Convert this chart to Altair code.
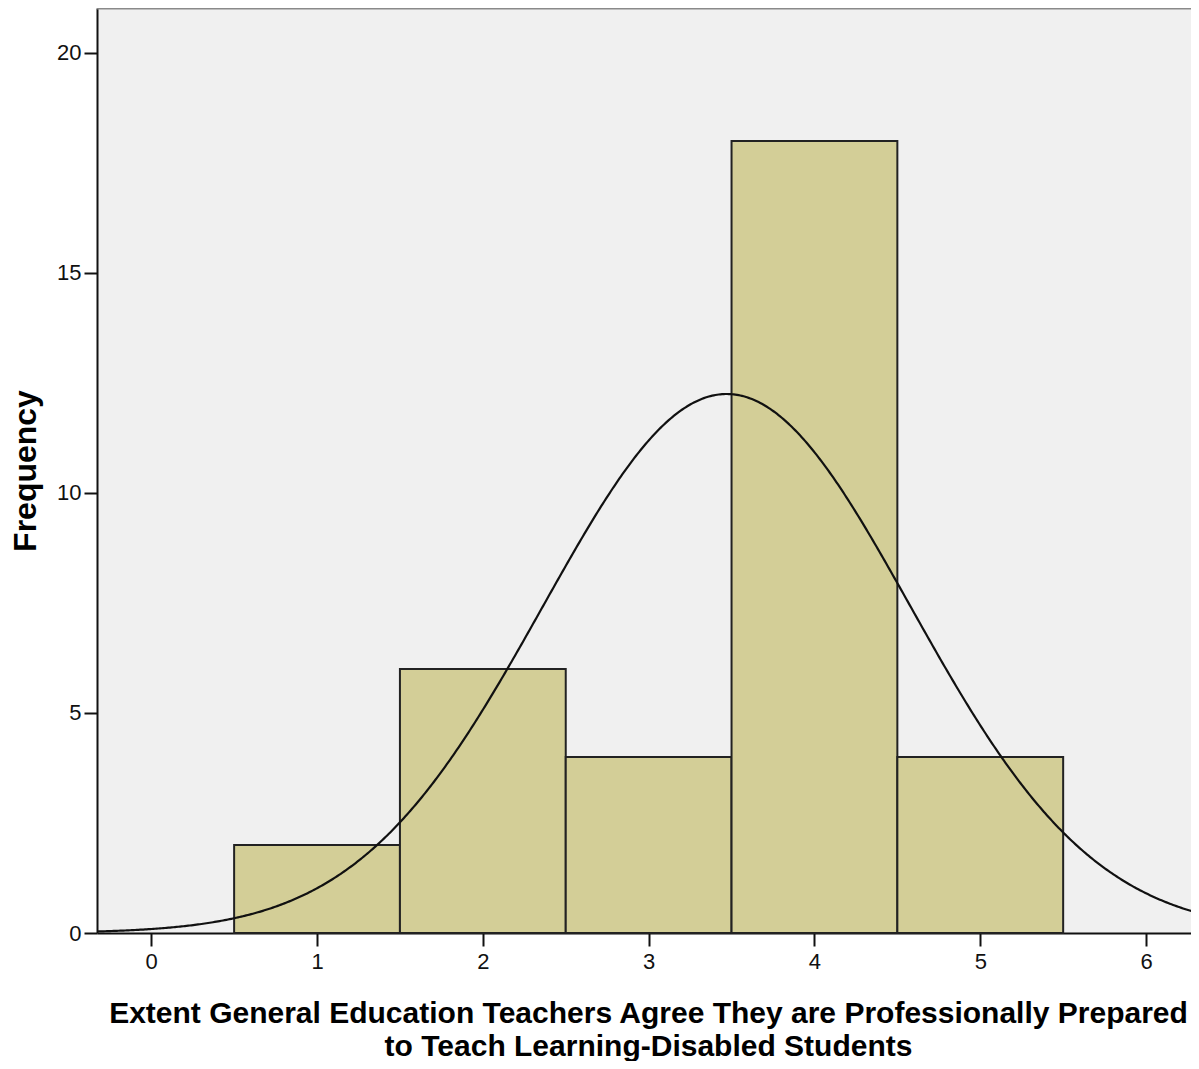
import altair as alt
import pandas as pd
import numpy as np

# Histogram bins (response scale 1..5) and frequencies
bin_lo = [0.5, 1.5, 2.5, 3.5, 4.5]
bin_hi = [1.5, 2.5, 3.5, 4.5, 5.5]
freq = [2, 6, 4, 18, 4]
values = [1, 2, 3, 4, 5]

x_ticks = [0, 1, 2, 3, 4, 5, 6]
y_ticks = [0, 5, 10, 15, 20]

x_title = ["Extent General Education Teachers Agree They are Professionally Prepared",
           "to Teach Learning-Disabled Students"]
y_title = "Frequency"

# summary statistics of the distribution (for the normal curve overlay)
n = float(sum(freq))
mean = float(np.dot(values, freq) / n)
sd = float(np.sqrt(np.dot(freq, (np.array(values) - mean) ** 2) / (n - 1)))
bw = 1.0

bars = pd.DataFrame({"lo": bin_lo, "hi": bin_hi, "freq": freq})

PLOT_W = 1094
X_DOM = [-0.327, 6.271]
Y_DOM = [0, 21.02]

xscale = alt.Scale(domain=X_DOM, nice=False, zero=False)
yscale = alt.Scale(domain=Y_DOM, nice=False)

FONT = "Liberation Sans"

hist = alt.Chart(bars).mark_rect(
    fill="#d3ce97", stroke="#222222", strokeWidth=2
).encode(
    x=alt.X("lo:Q", scale=xscale,
            axis=alt.Axis(values=x_ticks, title=x_title, grid=False, format="d",
                          titleX=551, titleAlign="center")),
    x2="hi:Q",
    y=alt.Y("freq:Q", scale=yscale,
            axis=alt.Axis(values=y_ticks, title=y_title, grid=False, format="d")),
    y2=alt.datum(0),
)

curve = alt.Chart(alt.sequence(start=X_DOM[0], stop=X_DOM[1] + 0.005, step=0.01, as_="x")).transform_calculate(
    y=f"{n * bw} / ({sd} * sqrt(2 * PI)) * exp(-0.5 * pow((datum.x - {mean}) / {sd}, 2))"
).mark_line(color="#111111", strokeWidth=2.2, clip=True).encode(
    x=alt.X("x:Q", scale=xscale),
    y=alt.Y("y:Q", scale=yscale),
)

top_border = alt.Chart(pd.DataFrame({"k": [0]})).mark_rule(
    color="#8a8a8a", strokeWidth=3
).encode(
    y=alt.value(0), x=alt.value(0), x2=alt.value(PLOT_W)
)

chart = alt.layer(hist, curve, top_border).properties(
    width=PLOT_W,
    height=925,
    autosize=alt.AutoSizeParams(type="none"),
    padding={"left": 89, "top": 0, "right": 0, "bottom": 128},
).configure_view(
    fill="#f0f0f0", stroke=None, strokeWidth=0
).configure_axis(
    labelFont=FONT, labelFontSize=22, labelColor="#111111",
    titleFont=FONT, titleFontSize=30, titleFontWeight="bold", titleColor="#000000",
    domainColor="#111111", domainWidth=2, tickColor="#111111", tickWidth=2,
    tickSize=13, labelPadding=4,
).configure_axisX(
    titlePadding=26, titleLineHeight=33, labelPadding=5,
).configure_axisY(
    titlePadding=14, labelPadding=3, titleFontSize=32,
)

chart.save("out.html", embed_options={"renderer": "svg", "actions": False})
